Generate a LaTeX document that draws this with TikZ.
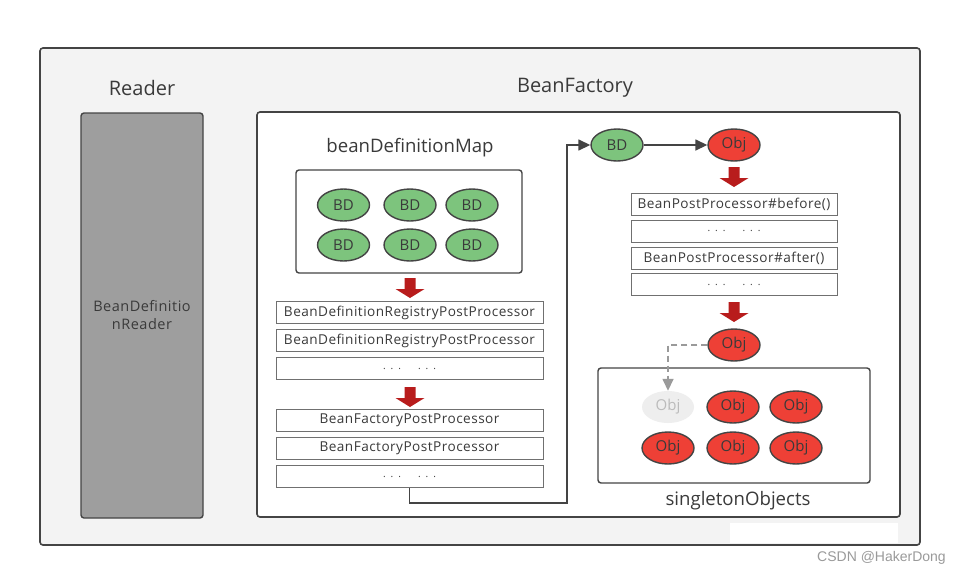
\documentclass[tikz,border=0pt]{standalone}
\usepackage{fontspec}
\setmainfont{Open Sans}
\newfontfamily\procfont[LetterSpace=3.5]{Open Sans}
\newfontfamily\wmfont{Liberation Sans}
\usetikzlibrary{arrows.meta,shapes.geometric}
\definecolor{outerfill}{HTML}{F3F3F3}
\definecolor{edgegray}{HTML}{444444}
\definecolor{readerfill}{HTML}{9E9E9E}
\definecolor{bdgreen}{HTML}{7DC47D}
\definecolor{objred}{HTML}{EE4036}
\definecolor{arrowred}{HTML}{B81C1C}
\definecolor{txtgray}{HTML}{3A3A3A}
\definecolor{procedge}{HTML}{707070}
\definecolor{ghostfill}{HTML}{EEEEEE}
\definecolor{ghosttext}{HTML}{BBBBBB}
\definecolor{dashgray}{HTML}{9A9A9A}
\newcommand{\dotsgap}{.\hspace{5pt}.\hspace{5pt}.\hspace{17pt}.\hspace{5pt}.\hspace{5pt}.}
\begin{document}
\begin{tikzpicture}[x=1pt,y=-1pt,
  title/.style={text=txtgray,font=\fontsize{20}{24}\selectfont,inner sep=0pt},
  subtitle/.style={text=txtgray,font=\fontsize{18.6}{22}\selectfont,inner sep=0pt},
  bigbox/.style={draw=edgegray,line width=1.6pt,rounded corners=3pt,inner sep=0pt},
  procbox/.style={draw=procedge,line width=0.9pt,fill=white,minimum width=#1,minimum height=22pt,inner sep=0pt,text=txtgray,font=\procfont\fontsize{13.6}{15}\selectfont},
  dotbox/.style={procbox=#1,font=\fontsize{10}{12}\selectfont},
  bdnode/.style={ellipse,draw=edgegray,line width=1.4pt,fill=bdgreen,minimum width=52pt,minimum height=32pt,inner sep=0pt,text=txtgray,font=\fontsize{15}{16}\selectfont},
  objnode/.style={ellipse,draw=edgegray,line width=1.4pt,fill=objred,minimum width=52pt,minimum height=32pt,inner sep=0pt,text=txtgray,font=\fontsize{15}{16}\selectfont},
  ghostnode/.style={ellipse,fill=ghostfill,minimum width=52pt,minimum height=32pt,inner sep=0pt,text=ghosttext,font=\fontsize{15}{16}\selectfont},
  conn/.style={draw=edgegray,line width=1.5pt},
  dashconn/.style={draw=dashgray,line width=1.5pt,dash pattern=on 6pt off 4pt},
  redarrow/.pic={\fill[arrowred] (-5.5,0) -- (5.5,0) -- (5.5,11) -- (14.5,11) -- (0,20) -- (-14.5,11) -- (-5.5,11) -- cycle;}
]
\useasboundingbox (0,0) rectangle (960,576);
\fill[white] (0,0) rectangle (960,576);
% outer container
\node[bigbox,fill=outerfill,minimum width=880pt,minimum height=497pt] (outer) at (480,296.5) {};
\fill[white] (730,523) rectangle (898,543);
% reader
\node[title] (readerlabel) at (142,88) {Reader};
\node[draw=edgegray,line width=1.4pt,rounded corners=3pt,fill=readerfill,minimum width=122pt,minimum height=405pt,inner sep=0pt,align=center,text=txtgray,font=\procfont\fontsize{14.5}{18}\selectfont] (reader) at (142,315.5) {BeanDefinitio\\nReader};
% bean factory
\node[title] (factorylabel) at (575,88) {BeanFactory};
\node[bigbox,fill=white,minimum width=643pt,minimum height=405pt] (factory) at (578.5,314.5) {};
% bean definition map
\node[subtitle] (maplabel) at (410,148) {beanDefinitionMap};
\node[bigbox,line width=1.4pt,minimum width=226pt,minimum height=103pt] (map) at (409,221.5) {};
\node[bdnode] (bd1) at (343.5,205) {BD};
\node[bdnode] (bd2) at (410,205) {BD};
\node[bdnode] (bd3) at (472,205) {BD};
\node[bdnode] (bd4) at (343.5,245) {BD};
\node[bdnode] (bd5) at (410,245) {BD};
\node[bdnode] (bd6) at (472,245) {BD};
\pic at (410,278) {redarrow};
% factory post processors
\node[procbox=267pt] (p1) at (409.5,312.5) {BeanDefinitionRegistryPostProcessor};
\node[procbox=267pt] (p2) at (409.5,340.5) {BeanDefinitionRegistryPostProcessor};
\node[dotbox=267pt] (p3) at (409.5,368.5) {\dotsgap};
\pic at (410,387) {redarrow};
\node[procbox=267pt] (p4) at (409.5,420) {BeanFactoryPostProcessor};
\node[procbox=267pt] (p5) at (409.5,448.5) {BeanFactoryPostProcessor};
\node[dotbox=267pt] (p6) at (409.5,476.5) {\dotsgap};
% flow to bean creation
\node[bdnode] (bdtop) at (617,145) {BD};
\node[objnode] (objtop) at (734,145) {Obj};
\coordinate (turn) at (567,503);
\draw[conn,-{Triangle[width=11pt,length=12pt]}] (p6.south) |- (turn) |- (bdtop.west);
\draw[conn,-{Triangle[width=11pt,length=12pt]}] (bdtop.east) -- (objtop.west);
\pic at (734,167) {redarrow};
% bean post processors
\node[procbox=206pt] (b1) at (734,204.5) {BeanPostProcessor\#before()};
\node[dotbox=206pt] (b2) at (734,231) {\dotsgap};
\node[procbox=206pt] (b3) at (734,258) {BeanPostProcessor\#after()};
\node[dotbox=206pt] (b4) at (734,284.5) {\dotsgap};
\pic at (734,302) {redarrow};
\node[objnode] (objmid) at (734,345) {Obj};
% singleton objects
\node[bigbox,line width=1.4pt,minimum width=272pt,minimum height=115pt] (singleton) at (734,425.5) {};
\node[ghostnode] (ghost) at (668,407) {Obj};
\node[objnode] (o2) at (733,407) {Obj};
\node[objnode] (o3) at (796,407) {Obj};
\node[objnode] (o4) at (668,448) {Obj};
\node[objnode] (o5) at (733,448) {Obj};
\node[objnode] (o6) at (796,448) {Obj};
\node[subtitle] (singletonlabel) at (738,501) {singletonObjects};
\draw[dashconn,-{Triangle[width=11pt,length=12pt]}] (objmid.west) -| (ghost.north);
% watermark
\node[text=dashgray,font=\wmfont\fontsize{14}{16}\selectfont,anchor=east,inner sep=0pt] (wm) at (946,558) {CSDN @HakerDong};
\end{tikzpicture}
\end{document}
